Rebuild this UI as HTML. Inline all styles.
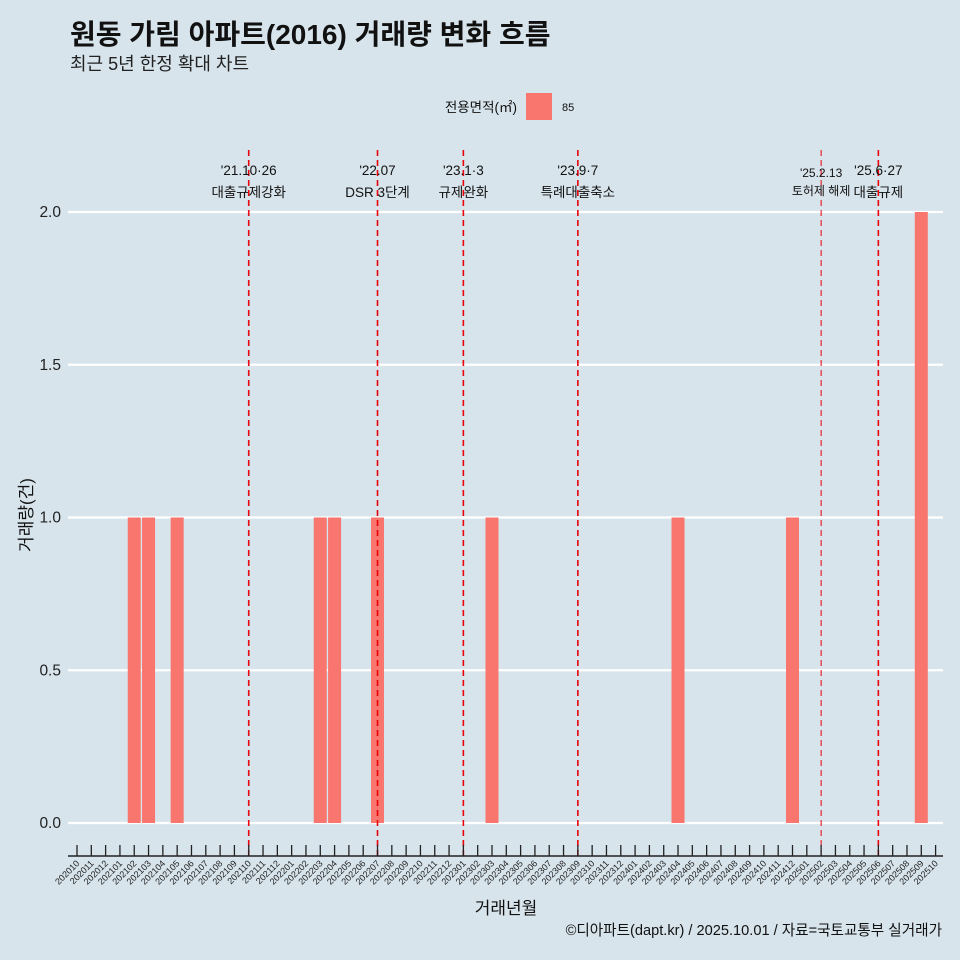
<!DOCTYPE html>
<html><head><meta charset="utf-8"><style>
body{margin:0;background:#d7e4ec;}
svg{display:block;font-family:"Liberation Sans","Noto Sans CJK KR",sans-serif;}
</style></head><body>
<svg id="chart" width="960" height="960" xmlns="http://www.w3.org/2000/svg">
<rect width="960" height="960" fill="#d7e4ec"/>
<text x="70" y="44" font-size="28" font-weight="bold" fill="#111">원동 가림 아파트(2016) 거래량 변화 흐름</text>
<text x="70" y="70" font-size="18" fill="#222">최근 5년 한정 확대 차트</text>
<g>
<text x="517" y="112" font-size="13.5" text-anchor="end" fill="#111">전용면적(㎡)</text>
<rect x="526" y="93" width="26" height="27" fill="#f8766d"/>
<text x="562" y="111" font-size="11" fill="#111">85</text>
</g>
<g id="grid"></g><g id="bars"></g><g id="events"></g><g id="xaxis"></g>
<text x="32" y="515" font-size="17" text-anchor="middle" transform="rotate(-90 32 515)" fill="#111">거래량(건)</text>
<text x="506" y="914" font-size="17" text-anchor="middle" fill="#111">거래년월</text>
<text x="942" y="935" font-size="14.6" text-anchor="end" fill="#111">©디아파트(dapt.kr) / 2025.10.01 / 자료=국토교통부 실거래가</text>
</svg>
<script>
const months=[];for(let y=2020,m=10;!(y===2025&&m>10);){months.push(''+y+(m<10?'0':'')+m);m++;if(m>12){m=1;y++;}}
const barMonths=['202102','202103','202105','202203','202204','202207','202303','202404','202412','202509'];
const barValues=[1,1,1,1,1,1,1,1,1,2];
const yTicks=[0,0.5,1,1.5,2];
const yTickLabels=['0.0','0.5','1.0','1.5','2.0'];
const eventMonths=['202110','202207','202301','202309','202502','202506'];
const eventDates=["'21.10·26","'22.07","'23.1·3","'23.9·7","'25.2.13","'25.6·27"];
const eventNames=["대출규제강화","DSR 3단계","규제완화","특례대출축소","토허제 해제","대출규제"];
const NS='http://www.w3.org/2000/svg';
const x=m=>77+14.31*months.indexOf(m);
const y=v=>823-305.5*v;
function mk(tag,attrs,parent,txt){const e=document.createElementNS(NS,tag);for(const k in attrs)e.setAttribute(k,attrs[k]);if(txt!=null)e.textContent=txt;parent.appendChild(e);return e;}
const grid=document.getElementById('grid');
yTicks.forEach((t,i)=>{
 const l=mk('line',{x1:68,x2:943,y1:y(t),y2:y(t),stroke:'#fff','stroke-width':2.2},grid);
 
 
 const tx=mk('text',{x:61,y:y(t)+5,'font-size':15.5,'text-anchor':'end',fill:'#222'},grid,yTickLabels[i]);
 
 
});
const bars=document.getElementById('bars');
barMonths.forEach((m,i)=>{
 const r=mk('rect',{x:x(m)-6.5,y:y(barValues[i]),width:13,height:y(0)-y(barValues[i]),fill:'#f8766d'},bars);
 
 
});
const ev=document.getElementById('events');
eventMonths.forEach((m,i)=>{
 const small=m==='202502';
 const l=mk('line',{x1:x(m),x2:x(m),y1:150,y2:856,stroke:'#e8000b','stroke-width':small?1:1.6,'stroke-dasharray':'6,4'},ev);
 
 
 const fs=small?12:13.5;
 const a=mk('text',{x:x(m),y:small?177:175,'font-size':fs,'text-anchor':'middle',fill:'#111'},ev,eventDates[i]);
 
 
 const b=mk('text',{x:x(m),y:small?195:197,'font-size':fs,'text-anchor':'middle',fill:'#111'},ev,eventNames[i]);
 
 
});
const xa=document.getElementById('xaxis');
const ax=mk('line',{x1:68,x2:943,y1:856,y2:856,stroke:'#222','stroke-width':1.5},xa);


months.forEach(m=>{
 const t=mk('line',{x1:x(m),x2:x(m),y1:845,y2:856,stroke:'#222','stroke-width':1.3},xa);
 
 
 const tx=mk('text',{x:x(m)+3,y:864,'font-size':9,'text-anchor':'end',fill:'#222',transform:`rotate(-45 ${x(m)+3} 864)`},xa,m);
 
 
});
</script>
</body></html>
